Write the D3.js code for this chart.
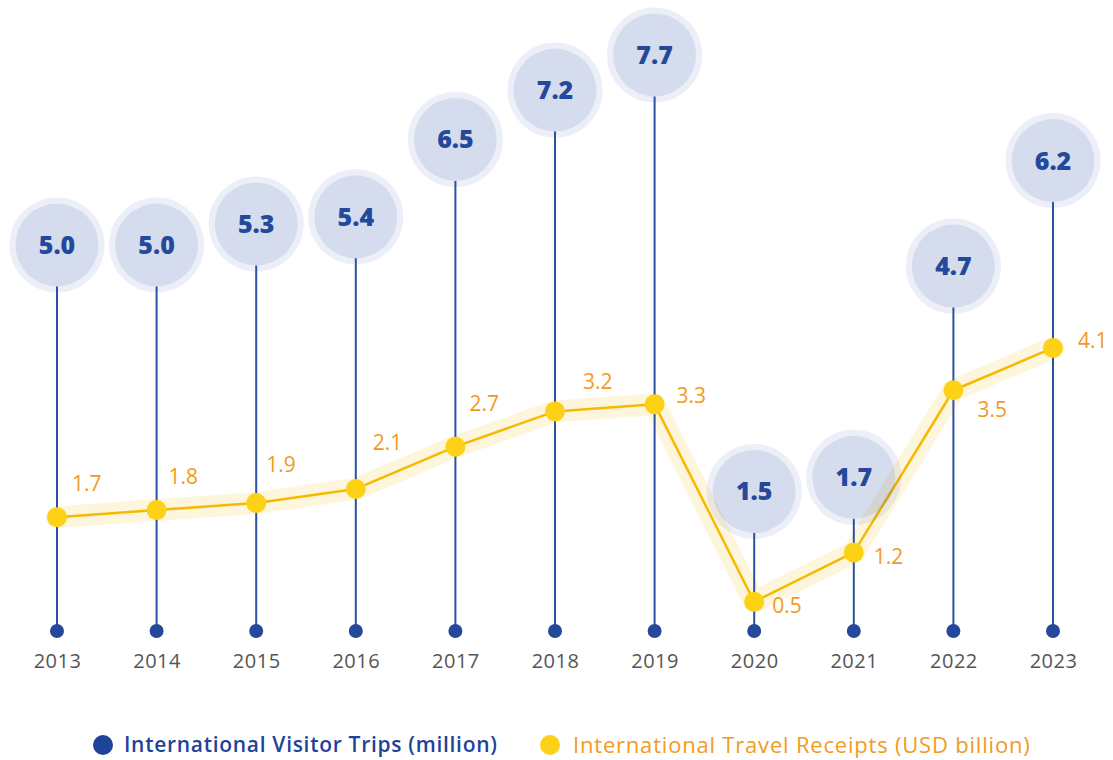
<!DOCTYPE html>
<html><head><meta charset="utf-8">
<script src="https://cdn.jsdelivr.net/npm/d3@7"></script>
<style>
html,body{margin:0;padding:0;background:#fff;}
svg{display:block;font-family:"Open Sans",Lato,sans-serif;}
</style></head>
<body>
<svg id="chart" width="1113" height="760"></svg>
<script>
const years = ["2013","2014","2015","2016","2017","2018","2019","2020","2021","2022","2023"];
const visitorTrips = [5.0,5.0,5.3,5.4,6.5,7.2,7.7,1.5,1.7,4.7,6.2];
const travelReceipts = [1.7,1.8,1.9,2.1,2.7,3.2,3.3,0.5,1.2,3.5,4.1];
const seriesNames = ["International Visitor Trips (million)","International Travel Receipts (USD billion)"];
// label offsets (style only)
const receiptLabelOffsets = [[15,-34],[12,-33],[10,-38],[17,-46],[14,-43],[28,-30],[22,-9],[18,4],[20,4],[24,19],[25,-7]];

const svg = d3.select("#chart");
const blue = "#24499b", blueLine = "#2c52a3", yellow = "#fcd116", yellowLine = "#f7b900", orange = "#f39a1e";

const x = d3.scalePoint().domain(years).range([57,1053]);
const yTrips = d3.scaleLinear().domain([0,8]).range([597,33.8]);
const yRec = d3.scaleLinear().domain([0,5]).range([637,284.5]);
const baseY = 631;
const rInner = 41.5, rHalo = 44.5;

// yellow halo band
const line = d3.line().x((d,i)=>x(years[i])).y(d=>yRec(d));
svg.append("path").attr("d",line(travelReceipts)).attr("fill","none")
  .attr("stroke","#fef6dc").attr("stroke-width",22).attr("stroke-linejoin","round").attr("stroke-linecap","round");

// blue stems
const g = svg.append("g");
g.selectAll("line.stem").data(visitorTrips).join("line")
  .attr("x1",(d,i)=>x(years[i])).attr("x2",(d,i)=>x(years[i]))
  .attr("y1",baseY).attr("y2",d=>yTrips(d)+rInner)
  .attr("stroke",blueLine).attr("stroke-width",2);
g.selectAll("circle.base").data(visitorTrips).join("circle")
  .attr("cx",(d,i)=>x(years[i])).attr("cy",baseY).attr("r",7).attr("fill",blue);

// yellow line
svg.append("path").attr("d",line(travelReceipts)).attr("fill","none")
  .attr("stroke",yellowLine).attr("stroke-width",2.5).attr("stroke-linejoin","round");
svg.selectAll("circle.rec").data(travelReceipts).join("circle")
  .attr("cx",(d,i)=>x(years[i])).attr("cy",d=>yRec(d)).attr("r",10).attr("fill",yellow);
svg.selectAll("text.rec").data(travelReceipts).join("text")
  .attr("x",(d,i)=>x(years[i])+receiptLabelOffsets[i][0])
  .attr("y",(d,i)=>yRec(d)+receiptLabelOffsets[i][1])
  .attr("dy","0.35em").attr("fill",orange).attr("font-size",21)
  .text(d=>d.toFixed(1));

// bubbles
const bg = svg.append("g");
bg.selectAll("circle.halo").data(visitorTrips).join("circle")
  .attr("cx",(d,i)=>x(years[i])).attr("cy",d=>yTrips(d)).attr("r",rHalo)
  .attr("fill","none").attr("stroke","#2b4ea8").attr("stroke-opacity",0.09).attr("stroke-width",6);
bg.selectAll("circle.bub").data(visitorTrips).join("circle")
  .attr("cx",(d,i)=>x(years[i])).attr("cy",d=>yTrips(d)).attr("r",rInner)
  .attr("fill","#2b4ea8").attr("fill-opacity",0.2);
bg.selectAll("text.bub").data(visitorTrips).join("text")
  .attr("x",(d,i)=>x(years[i])).attr("y",d=>yTrips(d)).attr("dy","0.36em")
  .attr("text-anchor","middle").attr("fill",blue).attr("font-size",25).attr("font-weight",800)
  .text(d=>d.toFixed(1));

// x axis labels
const xAxis = d3.axisBottom(x).tickSize(0).tickPadding(0);
const ax = svg.append("g").attr("transform","translate(0,654)").call(xAxis);
ax.select(".domain").remove();
ax.selectAll("text").attr("fill","#555").attr("font-size",20).attr("letter-spacing",0.5)
  .attr("font-family","'Open Sans',sans-serif");

// legend
const leg = svg.append("g");
leg.append("circle").attr("cx",103).attr("cy",745).attr("r",10).attr("fill","#1f4399");
leg.append("text").attr("x",124).attr("y",745).attr("dy","0.35em").attr("fill","#1f4399")
  .attr("font-size",21).attr("font-weight",600).attr("letter-spacing",0.7).text(seriesNames[0]);
leg.append("circle").attr("cx",550).attr("cy",745).attr("r",10).attr("fill",yellow);
leg.append("text").attr("x",573).attr("y",745).attr("dy","0.35em").attr("fill",orange)
  .attr("font-size",22).attr("letter-spacing",0.8).text(seriesNames[1]);
</script>
</body></html>
